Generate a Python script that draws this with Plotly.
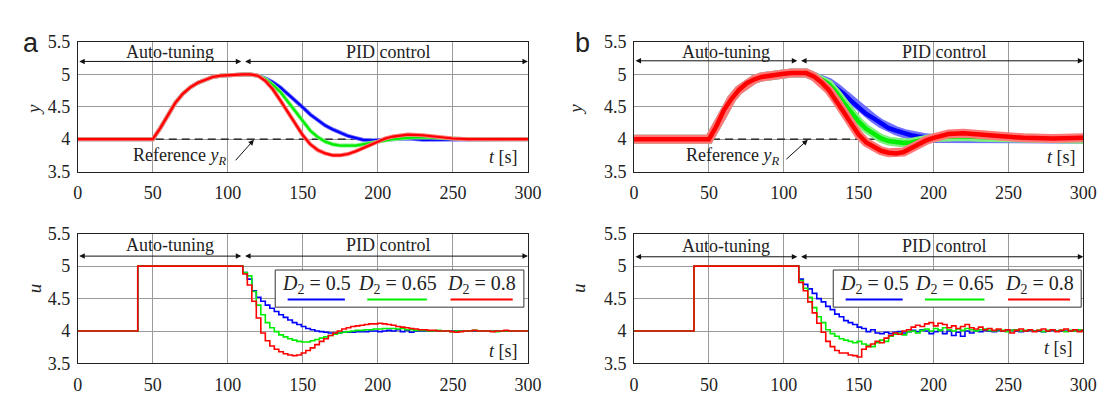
import plotly.graph_objects as go

# ---------------- data ----------------
t_y = [0, 25, 45, 50, 55, 60, 65, 70, 75, 80, 85, 90, 95, 100, 105, 110, 115, 120,
       125, 130, 135, 140, 145, 150, 155, 160, 165, 170, 175, 180, 185, 190, 195, 200,
       205, 210, 220, 230, 240, 250, 260, 280, 300]

ya_blue = [4.0, 4.0, 4.0, 4.0, 4.17, 4.36, 4.56, 4.70, 4.80, 4.87, 4.92, 4.96, 4.98, 4.99, 5.0, 5.0, 5.0, 4.98,
           4.94, 4.88, 4.80, 4.70, 4.60, 4.49, 4.38, 4.29, 4.21, 4.15, 4.10, 4.05, 4.02, 3.99, 3.98, 3.98,
           3.99, 4.0, 4.01, 3.99, 3.99, 4.0, 4.0, 4.0, 4.0]
ya_green = [4.0, 4.0, 4.0, 4.0, 4.17, 4.36, 4.56, 4.70, 4.80, 4.87, 4.92, 4.96, 4.98, 4.99, 5.0, 5.0, 5.0, 4.98,
            4.93, 4.84, 4.73, 4.58, 4.42, 4.27, 4.13, 4.03, 3.96, 3.92, 3.90, 3.90, 3.90, 3.92, 3.94, 3.96,
            3.98, 4.0, 4.02, 4.03, 4.02, 4.01, 4.0, 4.0, 4.0]
ya_red = [4.0, 4.0, 4.0, 4.0, 4.17, 4.36, 4.56, 4.70, 4.80, 4.87, 4.92, 4.96, 4.98, 4.99, 5.0, 5.0, 5.0, 4.98,
          4.90, 4.77, 4.60, 4.42, 4.23, 4.06, 3.92, 3.83, 3.78, 3.75, 3.75, 3.77, 3.81, 3.86, 3.92, 3.97,
          4.01, 4.04, 4.07, 4.06, 4.03, 4.01, 4.0, 4.0, 4.0]

yb_blue = [4.0, 4.0, 4.0, 4.0, 4.20, 4.45, 4.62, 4.76, 4.86, 4.92, 4.96, 4.98, 5.0, 5.01, 5.02, 5.02, 5.02, 4.97,
           4.94, 4.88, 4.80, 4.70, 4.59, 4.48, 4.39, 4.32, 4.24, 4.17, 4.13, 4.09, 4.06, 4.04, 4.02, 4.01,
           4.01, 4.01, 4.0, 4.0, 4.0, 4.0, 4.0, 4.0, 4.0]
yb_green = [4.0, 4.0, 4.0, 4.0, 4.20, 4.45, 4.62, 4.76, 4.86, 4.92, 4.96, 4.98, 5.0, 5.01, 5.02, 5.02, 5.02, 4.97,
            4.92, 4.85, 4.72, 4.56, 4.42, 4.27, 4.16, 4.08, 4.01, 3.97, 3.95, 3.94, 3.95, 3.98, 4.0, 4.02,
            4.03, 4.04, 4.04, 4.03, 4.03, 4.02, 4.01, 4.01, 4.0]
yb_red = [4.0, 4.0, 4.0, 4.0, 4.20, 4.45, 4.62, 4.76, 4.86, 4.92, 4.96, 4.98, 5.0, 5.01, 5.02, 5.02, 5.02, 4.97,
          4.88, 4.76, 4.60, 4.42, 4.24, 4.07, 3.95, 3.88, 3.82, 3.79, 3.78, 3.80, 3.86, 3.93, 3.98, 4.02,
          4.05, 4.08, 4.09, 4.07, 4.05, 4.03, 4.02, 4.01, 4.02]

ref_t = [0, 300]
ref_y = [4.0, 4.0]

t_u = [0, 40,
       110, 113, 116, 119, 122, 125, 128, 131, 134, 137,
       140, 143, 146, 149, 152, 155, 158, 161, 164, 167,
       170, 173, 176, 179, 182, 185, 188, 191, 194, 197,
       200, 203, 206, 209, 212, 215, 218, 221, 224, 227,
       230, 233, 236, 239, 242, 245, 248, 251, 254, 257,
       260, 263, 266, 269, 272, 275, 278, 281, 284, 287,
       290, 293, 296, 299, 300]

ua_blue = [4.0, 5.0,
           4.90, 4.80, 4.62, 4.52, 4.46, 4.40, 4.35, 4.30, 4.25, 4.21,
           4.17, 4.13, 4.10, 4.07, 4.04, 4.02, 4.00, 3.99, 3.98, 3.97,
           3.97, 3.97, 3.98, 3.98, 3.98, 3.99, 3.99, 3.99, 4.00, 4.00,
           3.99, 4.00, 4.01, 4.00, 4.02, 3.99, 4.01, 3.98, 4.00, 4.00,
           4.00, 4.00, 4.00, 4.00, 4.00, 4.00, 4.00, 4.00, 4.00, 4.00,
           4.00, 4.00, 4.00, 4.00, 4.00, 4.00, 4.00, 4.00, 4.00, 4.00,
           4.00, 4.00, 4.00, 4.00, 4.00]
ua_green = [4.0, 5.0,
            4.90, 4.85, 4.61, 4.40, 4.25, 4.13, 4.05, 3.99, 3.94, 3.91,
            3.88, 3.86, 3.84, 3.83, 3.83, 3.85, 3.87, 3.89, 3.91, 3.93,
            3.95, 3.97, 3.98, 3.99, 4.00, 4.01, 4.01, 4.02, 4.02, 4.03,
            4.03, 4.04, 4.04, 4.04, 4.03, 4.04, 4.02, 4.02, 4.01, 4.01,
            4.01, 4.00, 4.00, 4.01, 4.00, 4.00, 3.99, 4.00, 4.00, 4.00,
            4.00, 4.01, 4.00, 4.00, 4.00, 4.00, 3.99, 4.00, 4.00, 4.00,
            4.00, 4.00, 4.00, 4.00, 4.00]
ua_red = [4.0, 5.0,
          4.88, 4.71, 4.46, 4.20, 3.97, 3.85, 3.77, 3.72, 3.68, 3.65,
          3.63, 3.62, 3.63, 3.66, 3.70, 3.74, 3.79, 3.84, 3.88, 3.93,
          3.97, 4.00, 4.03, 4.05, 4.07, 4.08, 4.09, 4.10, 4.11, 4.11,
          4.12, 4.11, 4.10, 4.09, 4.07, 4.06, 4.05, 4.04, 4.03, 4.02,
          4.02, 4.01, 4.01, 4.00, 4.00, 4.00, 3.99, 3.98, 3.99, 4.00,
          4.00, 4.01, 4.00, 4.00, 4.00, 3.99, 4.00, 4.00, 4.01, 4.00,
          4.00, 4.00, 4.00, 4.00, 4.00]

ub_blue = [4.0, 5.0,
           4.80, 4.72, 4.65, 4.58, 4.50, 4.45, 4.38, 4.33, 4.26, 4.22,
           4.16, 4.13, 4.10, 4.06, 4.04, 3.99, 4.02, 3.97, 3.96, 3.98,
           3.96, 3.98, 3.99, 3.97, 3.99, 4.01, 3.99, 4.02, 4.00, 3.96,
           3.99, 4.01, 3.96, 4.00, 3.93, 3.98, 3.92, 4.00, 3.97, 4.00,
           3.99, 4.01, 4.00, 3.99, 4.01, 4.00, 4.00, 4.01, 4.00, 3.99,
           4.00, 4.01, 4.00, 4.00, 3.99, 4.00, 4.01, 4.00, 4.00, 4.00,
           4.00, 4.01, 4.00, 4.00, 4.00]
ub_green = [4.0, 5.0,
            4.78, 4.66, 4.52, 4.36, 4.22, 4.13, 4.02, 3.96, 3.92, 3.88,
            3.86, 3.84, 3.82, 3.84, 3.80, 3.78, 3.76, 3.82, 3.86, 3.84,
            3.92, 3.95, 3.97, 3.94, 3.99, 4.00, 3.97, 4.01, 4.03, 4.00,
            4.04, 4.01, 4.05, 4.02, 4.00, 4.03, 4.01, 4.04, 4.02, 4.00,
            4.02, 4.03, 4.01, 4.00, 4.02, 4.01, 3.99, 4.01, 4.02, 4.00,
            4.01, 4.02, 4.00, 4.01, 3.99, 4.01, 4.02, 4.00, 4.01, 3.99,
            4.01, 4.00, 4.02, 4.00, 4.00]
ub_red = [4.0, 5.0,
          4.75, 4.62, 4.45, 4.28, 4.12, 3.98, 3.84, 3.76, 3.70, 3.66,
          3.66, 3.63, 3.62, 3.60, 3.72, 3.76, 3.80, 3.84, 3.82, 3.89,
          3.93, 3.97, 3.95, 4.00, 4.02, 4.06, 4.09, 4.07, 4.11, 4.13,
          4.08, 4.12, 4.10, 4.05, 4.08, 4.04, 4.07, 4.10, 4.05, 4.03,
          4.06, 4.02, 4.04, 4.01, 4.03, 4.00, 4.02, 3.97, 4.01, 4.03,
          4.00, 4.02, 3.99, 4.01, 4.03, 4.00, 4.02, 3.99, 4.01, 4.03,
          4.00, 4.02, 3.99, 4.01, 4.01]

legend_labels = ["<i>D</i><sub>2</sub> = 0.5", "<i>D</i><sub>2</sub> = 0.65", "<i>D</i><sub>2</sub> = 0.8"]
colors = ["#0000ff", "#00ee00", "#ff0000"]
halo = ["#7070ff", "#80f080", "#ff7878"]

# ---------------- figure ----------------
W, H = 1114, 401
SERIF = "'Liberation Serif', 'Times New Roman', Times, serif"
SANS = "'Liberation Sans', Arial, sans-serif"
TXT = "#222222"

fig = go.Figure()

def add_lines(t, series, xa, ya, width, shape, halo_width=None):
    for ys, c, h in zip(series, colors, halo):
        if halo_width:
            fig.add_trace(go.Scatter(x=t, y=ys, mode="lines", xaxis=xa, yaxis=ya,
                                     line=dict(color=h, width=halo_width, shape=shape),
                                     showlegend=False, hoverinfo="skip"))
        fig.add_trace(go.Scatter(x=t, y=ys, mode="lines", xaxis=xa, yaxis=ya,
                                 line=dict(color=c, width=width, shape=shape),
                                 showlegend=False, hoverinfo="skip"))

# reference dashed lines
for xa, ya in [("x", "y"), ("x2", "y2")]:
    fig.add_trace(go.Scatter(x=ref_t, y=ref_y, mode="lines", xaxis=xa, yaxis=ya,
                             line=dict(color="#111111", width=1.3, dash="8px,5px"),
                             showlegend=False, hoverinfo="skip"))

add_lines(t_y, [ya_blue, ya_green, ya_red], "x", "y", 2.2, "linear", halo_width=4.0)
add_lines(t_y, [yb_blue, yb_green, yb_red], "x2", "y2", 4.5, "linear", halo_width=9)
add_lines(t_u, [ua_blue, ua_green, ua_red], "x3", "y3", 1.6, "hv")
add_lines(t_u, [ub_blue, ub_green, ub_red], "x4", "y4", 1.6, "hv")

xa_dom = [74 / W, 532 / W]
xb_dom = [640 / W, 1097 / W]
top_dom = [1 - 170 / H, 1 - 33.7 / H]
bot_dom = [1 - 372 / H, 1 - 235.5 / H]

def xax(dom, anchor):
    return dict(domain=dom, anchor=anchor, range=[0, 300], dtick=50, tick0=0,
                showgrid=True, gridcolor="#9a9a9a", gridwidth=1, zeroline=False,
                showline=True, linecolor="#222", linewidth=1, mirror=True,
                ticks="outside", ticklen=5, tickcolor="rgba(0,0,0,0)",
                tickfont=dict(family=SERIF, size=18, color=TXT))

def yax(dom, anchor):
    return dict(domain=dom, anchor=anchor, range=[3.5, 5.5], dtick=0.5, tick0=3.5,
                showgrid=True, gridcolor="#9a9a9a", gridwidth=1, zeroline=False,
                showline=True, linecolor="#222", linewidth=1, mirror=True,
                ticks="outside", ticklen=3, tickcolor="rgba(0,0,0,0)",
                tickfont=dict(family=SERIF, size=18, color=TXT))

fig.update_layout(
    width=W, height=H, margin=dict(l=0, r=0, t=0, b=0),
    font=dict(family=SERIF, size=17, color=TXT),
    paper_bgcolor="white", plot_bgcolor="white",
    xaxis=xax(xa_dom, "y"), yaxis=yax(top_dom, "x"),
    xaxis2=xax(xb_dom, "y2"), yaxis2=yax(top_dom, "x2"),
    xaxis3=xax(xa_dom, "y3"), yaxis3=yax(bot_dom, "x3"),
    xaxis4=xax(xb_dom, "y4"), yaxis4=yax(bot_dom, "x4"),
)

ann = []
shapes = []

def txt(text, x, y, xref, yref, size=18, **kw):
    d = dict(text=text, x=x, y=y, xref=xref, yref=yref, showarrow=False,
             font=dict(family=SERIF, size=size, color=TXT))
    d.update(kw)
    ann.append(d)

def arrow(x0, y0, x1, y1, xref, yref, side="end"):
    ann.append(dict(text="", x=x1, y=y1, ax=x0, ay=y0, xref=xref, yref=yref,
                    axref=xref, ayref=yref, showarrow=True, arrowhead=2,
                    arrowsize=1.1, arrowwidth=1, arrowcolor="#111", arrowside=side))

panels = [
    ("x", "y", 5.34, 5.20, True, (67.6, 3.735, 104.3, 3.65, 117.4, 3.99), (284, 3.72)),
    ("x2", "y2", 5.35, 5.21, True, (65.7, 3.73, 100.7, 3.67, 116.0, 3.99), (285.6, 3.73)),
    ("x3", "y3", 5.32, 5.155, False, None, (284, 3.69)),
    ("x4", "y4", 5.31, 5.145, False, None, (283.5, 3.74)),
]
for xr, yr, ty, ay, has_ref, rp, tp in panels:
    txt("Auto-tuning", 61.5, ty, xr, yr)
    txt("PID control", 207, ty, xr, yr)
    arrow(0, ay, 109, ay, xr, yr, side="end+start")
    arrow(110.5, ay, 300, ay, xr, yr, side="end+start")
    txt("<i>t</i> [s]", tp[0], tp[1], xr, yr)
    if has_ref:
        txt("Reference <i>y<sub>R</sub></i>", rp[0], rp[1], xr, yr)
        arrow(rp[2], rp[3], rp[4], rp[5], xr, yr)

# legends in u panels
legend_boxes = [("x3", "y3", 131.6, 297.3), ("x4", "y4", 133.0, 298.6)]
for xr, yr, bx0, bx1 in legend_boxes:
    shapes.append(dict(type="rect", xref=xr, yref=yr, x0=bx0, x1=bx1, y0=4.368, y1=4.941,
                       line=dict(color="#333", width=1), fillcolor="white", layer="above"))
    span = bx1 - bx0
    centers = [bx0 + 0.165 * span, bx0 + 0.49 * span, bx0 + 0.83 * span]
    halfw = [0.115 * span, 0.12 * span, 0.125 * span]
    for lab, c, cx, hw in zip(legend_labels, colors, centers, halfw):
        txt(lab, cx, 4.72, xr, yr, size=20)
        shapes.append(dict(type="line", xref=xr, yref=yr, x0=cx - hw, x1=cx + hw,
                           y0=4.485, y1=4.485, line=dict(color=c, width=2), layer="above"))

def ptxt(text, px, py, size, family, angle=0):
    ann.append(dict(text=text, x=px / W, y=1 - py / H, xref="paper", yref="paper",
                    showarrow=False, textangle=angle,
                    font=dict(family=family, size=size, color=TXT)))

ptxt("<i>y</i>", 16, 97, 19, SERIF, -90)
ptxt("<i>u</i>", 17, 300, 19, SERIF, -90)
ptxt("<i>y</i>", 581, 97, 19, SERIF, -90)
ptxt("<i>u</i>", 583, 300, 19, SERIF, -90)
ptxt("a", 16, 17, 27, SANS)
ptxt("b", 588, 17, 27, SANS)

fig.update_layout(annotations=ann, shapes=shapes)

fig.write_html("out.html", config={"displayModeBar": False},
               post_script="document.body.style.margin='0px';")
